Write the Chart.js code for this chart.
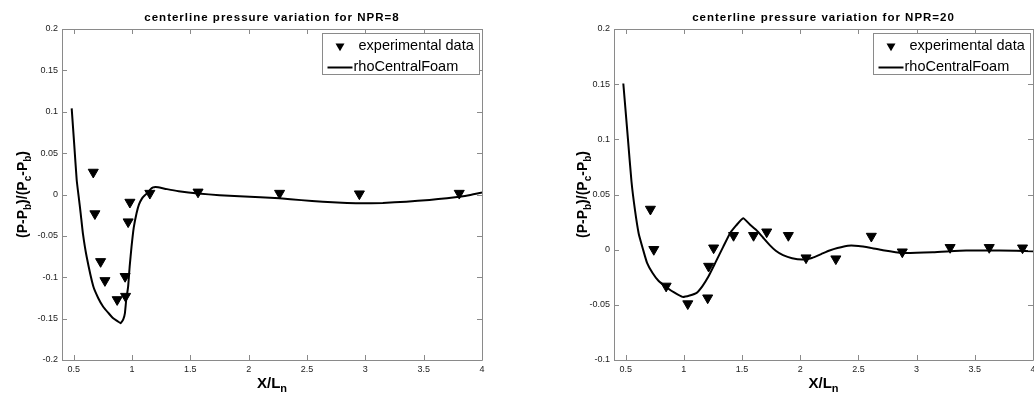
<!DOCTYPE html>
<html>
<head>
<meta charset="utf-8">
<script src="https://cdn.jsdelivr.net/npm/chart.js@4.4.1/dist/chart.umd.min.js"></script>
<style>
  body { margin: 0; background: #fff; }
  .wrap { position: relative; width: 1034px; height: 398px; }
  canvas { position: absolute; top: 0; }
</style>
</head>
<body>
<div class="wrap">
  <canvas id="npr8" width="517" height="398" style="left:0"></canvas>
  <canvas id="npr20" width="517" height="398" style="left:517px"></canvas>
</div>
<script>
// NPR = 8
const npr8ExpX = [0.668, 0.682, 0.731, 0.768, 0.873, 0.941, 0.945, 0.967, 0.982, 1.153, 1.566, 2.265, 2.949, 3.805];
const npr8ExpY = [0.027, -0.0232, -0.081, -0.104, -0.127, -0.099, -0.123, -0.033, -0.0093, 0.0015, 0.003, 0.0015, 0.0008, 0.0015];
const npr8SimX = [0.483, 0.505, 0.526, 0.545, 0.56, 0.58, 0.611, 0.668, 0.71, 0.753, 0.8, 0.839, 0.875, 0.902,
  0.925, 0.939, 0.95, 0.967, 0.98, 0.996, 1.015, 1.039, 1.06, 1.085, 1.11, 1.138, 1.16, 1.181, 1.2, 1.224,
  1.3, 1.4, 1.566, 1.75, 1.92, 2.1, 2.265, 2.45, 2.636, 2.8, 2.949, 3.15, 3.35, 3.55, 3.7, 3.805, 3.9, 4.0];
const npr8SimY = [0.104, 0.06, 0.0175, -0.005, -0.0227, -0.048, -0.075, -0.111, -0.125, -0.1356, -0.1435, -0.1496, -0.153, -0.1555,
  -0.151, -0.1436, -0.128, -0.111, -0.087, -0.063, -0.04, -0.0227, -0.012, -0.005, -0.001, 0.0025, 0.0065, 0.0085, 0.0092, 0.0088,
  0.0065, 0.004, 0.0012, -0.0008, -0.002, -0.0032, -0.0046, -0.0068, -0.0087, -0.01, -0.0106, -0.0102, -0.0087, -0.0065, -0.0045, -0.0027, -0.0005, 0.0025];

// NPR = 20
const npr20ExpX = [0.713, 0.742, 0.848, 1.034, 1.205, 1.213, 1.256, 1.427, 1.599, 1.712, 1.898, 2.05, 2.306, 2.611, 2.877, 3.288, 3.624, 3.91];
const npr20ExpY = [0.0367, 0.0002, -0.033, -0.049, -0.0437, -0.015, 0.0016, 0.0129, 0.0129, 0.0161, 0.0129, -0.0074, -0.0083, 0.0122, -0.002, 0.002, 0.002, 0.0016];
const npr20SimX = [0.48, 0.52, 0.55, 0.58, 0.612, 0.65, 0.684, 0.73, 0.78, 0.85, 0.92, 0.99, 1.05, 1.11, 1.16, 1.21, 1.27,
  1.338, 1.396, 1.45, 1.51, 1.565, 1.624, 1.68, 1.738, 1.79, 1.852, 1.93, 2.023, 2.1, 2.18, 2.252, 2.32, 2.41, 2.5, 2.6,
  2.71, 2.88, 3.14, 3.425, 3.71, 4.0];
const npr20SimY = [0.1506, 0.1, 0.062, 0.036, 0.0147, 0.0, -0.012, -0.021, -0.028, -0.034, -0.039, -0.0428, -0.0415, -0.0392, -0.033, -0.0246, -0.012,
  0.0025, 0.0147, 0.022, 0.0285, 0.023, 0.0177, 0.011, 0.0041, -0.001, -0.005, -0.0078, -0.0089, -0.0075, -0.004, -0.0008, 0.0015, 0.0036, 0.0034, 0.0018,
  -0.0005, -0.0029, -0.0023, -0.0008, -0.0008, -0.0014];

// ticks
const xTicks = [0.5, 1, 1.5, 2, 2.5, 3, 3.5, 4];
const npr8YTicks = [-0.2, -0.15, -0.1, -0.05, 0, 0.05, 0.1, 0.15, 0.2];
const npr20YTicks = [-0.1, -0.05, 0, 0.05, 0.1, 0.15, 0.2];

const legendLabels = ['experimental data', 'rhoCentralFoam'];
const FONT = '"Liberation Sans", Arial, sans-serif';
const AXIS_COLOR = '#8a8a8a';

const yLabelParts = [
  { t: '(P-P' }, { t: 'b', sub: true }, { t: ')/(P' }, { t: 'c', sub: true },
  { t: '-P' }, { t: 'b', sub: true }, { t: ')' }
];
const xLabelParts = [{ t: 'X/L' }, { t: 'n', sub: true }];

function pairs(xs, ys) {
  return xs.map((x, i) => ({ x: x, y: ys[i] }));
}

function drawRich(ctx, parts, x, y, size, subSize) {
  let total = 0;
  parts.forEach(p => {
    ctx.font = 'bold ' + (p.sub ? subSize : size) + 'px ' + FONT;
    p.w = ctx.measureText(p.t).width;
    total += p.w;
  });
  let cx = x - total / 2;
  ctx.textAlign = 'left';
  ctx.textBaseline = 'alphabetic';
  parts.forEach(p => {
    ctx.font = 'bold ' + (p.sub ? subSize : size) + 'px ' + FONT;
    ctx.fillText(p.t, cx, y + (p.sub ? 4 : 0));
    cx += p.w;
  });
}

function downTriangle(ctx, x, y, r) {
  ctx.beginPath();
  ctx.moveTo(x, y + r);
  ctx.lineTo(x - r * 0.866, y - r / 2);
  ctx.lineTo(x + r * 0.866, y - r / 2);
  ctx.closePath();
  ctx.fill();
}

// box, inward ticks, title, axis labels and legend like a matlab figure
const matlabFrame = {
  id: 'matlabFrame',
  afterDraw(chart, args, opts) {
    const ctx = chart.ctx;
    const a = chart.chartArea;
    const xs = chart.scales.x, ys = chart.scales.y;
    ctx.save();
    ctx.strokeStyle = AXIS_COLOR;
    ctx.lineWidth = 1;
    ctx.beginPath();
    ctx.rect(Math.round(a.left) + 0.5, Math.round(a.top) + 0.5, Math.round(a.right - a.left), Math.round(a.bottom - a.top));
    xs.ticks.forEach(t => {
      const px = Math.round(xs.getPixelForValue(t.value)) + 0.5;
      ctx.moveTo(px, a.bottom); ctx.lineTo(px, a.bottom - 5);
      ctx.moveTo(px, a.top); ctx.lineTo(px, a.top + 5);
    });
    ys.ticks.forEach(t => {
      const py = Math.round(ys.getPixelForValue(t.value)) + 0.5;
      ctx.moveTo(a.left, py); ctx.lineTo(a.left + 5, py);
      ctx.moveTo(a.right, py); ctx.lineTo(a.right - 5, py);
    });
    ctx.stroke();

    const midX = (a.left + a.right) / 2;
    const midY = (a.top + a.bottom) / 2;
    ctx.fillStyle = '#000';
    ctx.font = 'bold 11.5px ' + FONT;
    ctx.letterSpacing = '1px';
    ctx.textAlign = 'center';
    ctx.textBaseline = 'alphabetic';
    ctx.fillText(opts.title, midX, 21);
    ctx.letterSpacing = '0px';

    drawRich(ctx, xLabelParts, midX, 388, 15, 11);

    ctx.save();
    ctx.translate(opts.yLabelX, midY);
    ctx.rotate(-Math.PI / 2);
    drawRich(ctx, yLabelParts, 0, 0, 14, 10);
    ctx.restore();

    // legend
    const w = 157, h = 41;
    const L = Math.round(a.right - 3.5 - w) + 0.5, T = Math.round(a.top + 4) + 0.5;
    ctx.fillStyle = '#fff';
    ctx.fillRect(L, T, w, h);
    ctx.strokeStyle = AXIS_COLOR;
    ctx.lineWidth = 1;
    ctx.strokeRect(L, T, w, h);
    ctx.fillStyle = '#000';
    downTriangle(ctx, L + 17.5, T + 12.5, 5.2);
    ctx.strokeStyle = '#000';
    ctx.lineWidth = 2;
    ctx.beginPath();
    ctx.moveTo(L + 5, T + 34); ctx.lineTo(L + 30, T + 34);
    ctx.stroke();
    ctx.font = '14.5px ' + FONT;
    ctx.textAlign = 'left';
    ctx.textBaseline = 'middle';
    ctx.fillText(legendLabels[0], L + 36, T + 12.5);
    ctx.fillText(legendLabels[1], L + 31, T + 33.5);
    ctx.restore();
  }
};

function makeChart(id, expX, expY, simX, simY, yTicks, yMin, yMax, yWidth, padRight, title, yLabelX) {
  return new Chart(document.getElementById(id), {
    type: 'scatter',
    data: {
      datasets: [
        {
          label: legendLabels[1],
          data: pairs(simX, simY),
          showLine: true,
          borderColor: '#000',
          borderWidth: 2,
          pointRadius: 0,
          tension: 0.15,
          fill: false,
          order: 1
        },
        {
          label: legendLabels[0],
          data: pairs(expX, expY),
          showLine: false,
          pointStyle: 'triangle',
          pointRotation: 180,
          pointRadius: 5.8,
          pointBorderWidth: 1,
          pointBackgroundColor: '#000',
          pointBorderColor: '#000',
          order: 2
        }
      ]
    },
    options: {
      responsive: false,
      animation: false,
      events: [],
      layout: { autoPadding: false, padding: { left: 0, right: padRight, top: 29, bottom: 0 } },
      plugins: {
        legend: { display: false },
        tooltip: { enabled: false },
        matlabFrame: { title: title, yLabelX: yLabelX }
      },
      scales: {
        x: {
          type: 'linear',
          min: 0.4,
          max: 4,
          afterBuildTicks: s => { s.ticks = xTicks.map(v => ({ value: v })); },
          afterFit: s => { s.height = 38; s.paddingLeft = 0; s.paddingRight = 0; },
          grid: { display: false, drawTicks: false },
          border: { display: false },
          ticks: {
            color: '#222',
            font: { family: FONT, size: 9 },
            padding: 4,
            maxRotation: 0,
            autoSkip: false,
            callback: v => String(Math.round(v * 1000) / 1000)
          }
        },
        y: {
          type: 'linear',
          min: yMin,
          max: yMax,
          afterBuildTicks: s => { s.ticks = yTicks.map(v => ({ value: v })); },
          afterFit: s => { s.width = yWidth; },
          grid: { display: false, drawTicks: false },
          border: { display: false },
          ticks: {
            color: '#222',
            font: { family: FONT, size: 9 },
            padding: 4,
            autoSkip: false,
            callback: v => String(Math.round(v * 1000) / 1000)
          }
        }
      }
    },
    plugins: [matlabFrame]
  });
}

makeChart('npr8', npr8ExpX, npr8ExpY, npr8SimX, npr8SimY, npr8YTicks, -0.2, 0.2, 62, 35,
  'centerline pressure variation for NPR=8', 27);
makeChart('npr20', npr20ExpX, npr20ExpY, npr20SimX, npr20SimY, npr20YTicks, -0.1, 0.2, 97, 1,
  'centerline pressure variation for NPR=20', 70);
</script>
</body>
</html>
